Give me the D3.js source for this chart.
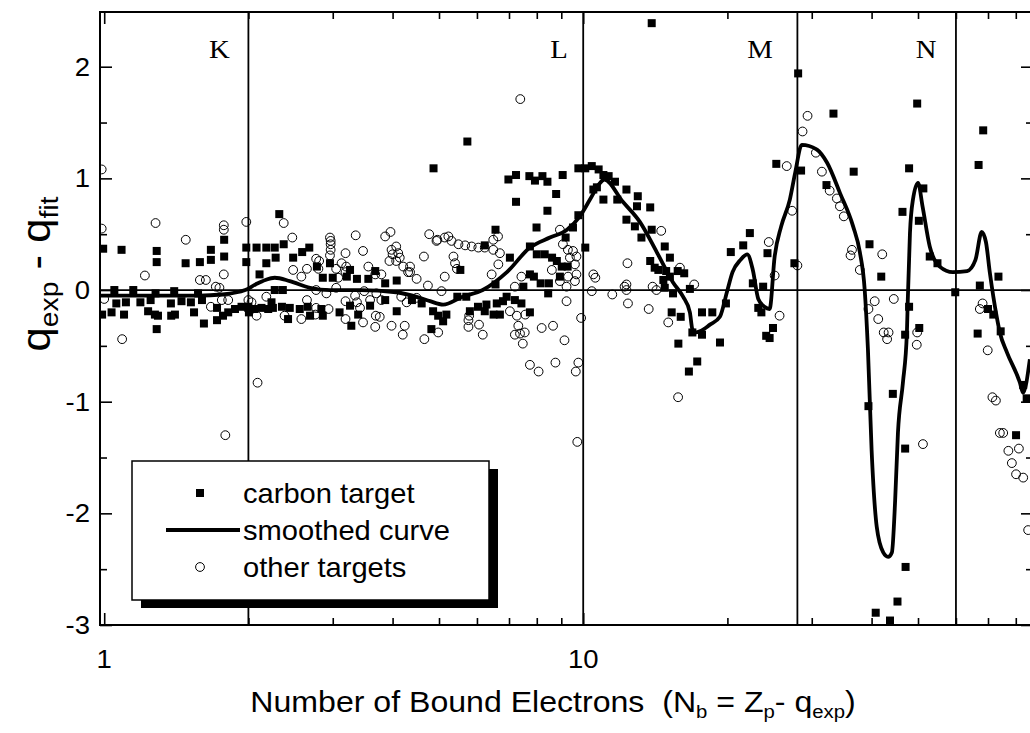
<!DOCTYPE html>
<html>
<head>
<meta charset="utf-8">
<script src="https://cdn.jsdelivr.net/npm/d3@7"></script>
<style>
body { margin: 0; background: #fff; }
text { font-family: Arial, "Liberation Sans", sans-serif; fill: #000; }
</style>
</head>
<body>
<div id="chart"></div>
<script>
// shell closures and their labels
const shellBounds = [2, 10, 28, 60];
const shellLabels = ['K', 'L', 'M', 'N'];
const shellLabelN = [1.74, 8.9, 23.4, 52];

const xMajorTicks = [1, 10];
const xMinorTicks = [2, 3, 4, 5, 6, 7, 8, 9, 20, 30, 40, 50, 60, 70, 80];
const yMajorTicks = [-3, -2, -1, 0, 1, 2];
const yMinorTicks = [-2.5, -1.5, -0.5, 0.5, 1.5];

const legendItems = ['carbon target', 'smoothed curve', 'other targets'];

// smoothed curve  [N_b, q_exp - q_fit]
const smoothCurve = [[0.98,-0.05],[1.25,-0.05],[1.58,-0.05],[1.76,-0.04],[1.97,0.0],[2.07,0.05],[2.17,0.09],[2.27,0.11],[2.44,0.08],[2.69,0.02],[2.96,0.0],[3.42,0.0],[4.07,-0.02],[4.56,-0.07],[4.79,-0.10],[5.1,-0.13],[5.6,-0.06],[6.17,0.0],[6.93,0.16],[7.74,0.38],[8.52,0.47],[9.25,0.54],[9.84,0.66],[10.33,0.81],[10.8,0.95],[11.07,0.99],[12.1,0.79],[13.13,0.61],[14.24,0.34],[15.39,0.07],[16.16,-0.06],[16.7,-0.2],[16.9,-0.35],[17.2,-0.38],[17.52,-0.37],[18.39,-0.31],[19.29,-0.24],[19.95,-0.02],[20.5,0.16],[21.3,0.27],[22.0,0.32],[22.6,0.18],[23.2,-0.08],[23.9,-0.15],[24.5,-0.17],[25.1,0.3],[25.9,0.57],[27.0,0.81],[27.7,1.05],[28.6,1.30],[30.7,1.26],[32.3,1.14],[34.35,0.87],[36.6,0.57],[37.8,0.34],[38.7,0.0],[39.3,-0.53],[40.0,-1.43],[41.0,-2.12],[42.3,-2.35],[43.3,-2.39],[44.1,-2.35],[44.8,-1.88],[45.4,-1.28],[46.5,-0.83],[47.4,-0.38],[47.6,-0.09],[48.1,0.51],[48.8,0.81],[50.0,0.96],[51.1,0.75],[52.9,0.39],[55.5,0.21],[59.1,0.16],[63.3,0.17],[65.9,0.27],[67.9,0.52],[69.3,0.43],[70.6,0.16],[73.0,-0.24],[74.1,-0.38],[76.7,-0.56],[81.6,-0.83],[82.8,-0.92],[85.6,-0.62]];

// carbon target  [N_b, q_exp - q_fit]
const carbonPoints = [[0.995,0.37],[1.087,0.36],[1.287,0.35],[1.287,0.25],[1.479,0.24],[1.584,0.25],[1.67,0.27],[1.67,0.36],[1.78,0.45],[1.78,0.30],[1.98,0.38],[1.98,0.25],[2.08,0.38],[2.18,0.38],[2.27,0.38],[2.18,0.24],[2.11,0.14],[2.37,0.41],[2.32,0.68],[2.28,0.29],[2.48,0.29],[2.59,0.34],[2.68,0.38],[2.78,0.21],[2.96,0.24],[2.86,0.11],[3.0,0.11],[3.21,0.12],
[1.05,0.0],[1.15,0.0],[1.28,-0.03],[1.40,-0.01],[1.57,-0.03],
[0.99,-0.22],[1.036,-0.2],[1.06,-0.12],[1.11,-0.11],[1.10,-0.22],[1.19,-0.11],[1.25,-0.09],[1.235,-0.19],[1.276,-0.22],[1.295,-0.23],[1.287,-0.35],[1.38,-0.23],[1.405,-0.22],[1.378,-0.12],[1.45,-0.1],[1.517,-0.11],[1.54,-0.2],[1.615,-0.3],[1.6,-0.09],[1.72,-0.16],[1.72,-0.27],[1.77,-0.23],[1.815,-0.2],[1.875,-0.17],[1.935,-0.15],[2.0,-0.15],[2.005,-0.2],[2.06,-0.17],[2.13,-0.16],[2.2,-0.17],[2.235,-0.11],
[3.26,0.18],[3.37,0.1],[3.56,0.1],[3.68,0.17],[3.86,0.06],[4.08,0.085],[2.27,0.0],[2.36,0.0],
[2.25,-0.16],[2.35,-0.15],[2.44,-0.16],[2.56,-0.17],[2.66,-0.15],[2.42,-0.26],[2.69,-0.23],[2.84,-0.17],[2.86,-0.23],[3.1,-0.2],[3.26,-0.14],[3.28,-0.32],[3.39,-0.22],[3.59,-0.14],[3.86,-0.09],[4.08,-0.19],[4.39,-0.09],[4.6,-0.12],[4.82,-0.35],[4.86,-0.19],[4.98,-0.23],[5.1,-0.28],[5.18,-0.22],
[4.87,1.09],[5.73,1.33],[13.9,2.39],[6.98,0.99],[7.24,1.03],[7.72,1.02],[7.93,0.98],[8.22,1.02],[8.42,0.97],[9.06,1.03],[9.77,1.09],[10.1,1.09],[10.42,1.11],[10.77,1.08],[7.24,0.79],[8.78,0.86],[8.42,0.71],[7.99,0.56],[6.56,0.54],[6.23,0.4],[7.74,0.39],[9.19,0.47],[9.52,0.56],[9.77,0.67],[10.1,0.38],[7.03,0.29],[8.0,0.32],[8.31,0.32],[8.61,0.29],[8.81,0.26],[9.02,0.21],[9.28,0.21],[7.74,0.14],[7.89,0.12],[8.15,0.06],[8.48,0.06],[8.94,0.12],[8.45,-0.03],[7.5,0.03],[6.56,0.05],[6.92,-0.06],[5.54,0.18],[5.46,-0.06],[5.7,-0.06],[6.28,-0.13],[6.6,-0.12],[6.8,-0.1],[7.2,-0.09],[7.43,-0.12],[7.74,-0.2],[5.8,-0.19],[6.23,-0.19],[6.5,-0.22],[6.7,-0.22],[6.03,-0.15],
[10.68,0.92],[11.02,1.03],[11.3,1.02],[11.65,0.97],[12.31,0.9],[13.0,0.84],[13.8,0.74],[11.02,0.81],[11.78,0.81],[12.31,0.63],[12.82,0.57],[13.23,0.47],[13.9,0.54],[14.8,0.39],[15.17,0.29],[13.8,0.26],[14.35,0.18],[14.7,0.09],[15.4,-0.03],[15.3,-0.2],[10.5,0.9],[12.95,0.75],[14.1,0.2],[14.9,0.17],[15.75,0.17],[16.25,0.15],[15.17,0.12],[14.8,0.02],[16.7,0.01],[15.98,-0.24],[15.8,-0.48],[17.3,-0.64],[16.62,-0.73],[16.9,-0.38],[17.7,-0.4],[17.7,-0.2],[18.6,-0.2],[19.3,-0.47],[19.86,-0.12],[20.33,0.34],[21.58,0.4],[22.28,0.51],[22.6,0.06],[23.75,0.03],[23.2,-0.16],[23.55,-0.2],[24.25,0.33],[24.9,-0.34],[24.1,-0.41],[24.5,-0.43],[25.3,1.13],[28.5,1.07],[27.6,0.24],[28.1,1.94],[33.3,1.58],[32.2,0.94],[36.7,1.06],[39.6,0.41],[41.9,0.12],[49.8,1.67],[47.9,1.09],[46.4,0.7],[50.2,0.62],[51.3,0.91],[52.9,0.3],[54.9,0.24],[59.8,-0.02],[68.4,1.43],[66.9,1.12],[67.3,0.04],[73.6,0.12],[70.0,-0.17],[71.8,-0.22],[74.4,-0.37],[66.6,-0.39],[47.9,-0.15],[47.0,-0.4],[50.3,-0.34],[39.4,-1.04],[44.3,-0.93],[47.0,-1.42],[47.1,-2.48],[45.3,-2.79],[40.8,-2.89],[43.7,-2.96],[80.1,-1.3],[82.9,-0.85],[84.3,-0.97]];

// other targets  [N_b, q_exp - q_fit]
const otherPoints = [[0.988,1.08],[0.988,0.55],[1.28,0.6],[1.48,0.45],[1.777,0.58],[1.777,0.54],[1.98,0.61],[2.37,0.6],[2.47,0.47],[1.216,0.13],[1.584,0.09],[1.63,0.09],[1.71,0.03],[1.777,0.14],[1.74,0.02],[2.96,0.47],[2.97,0.41],[2.97,0.36],[2.96,0.31],[2.97,0.44],[2.77,0.28],[2.8,0.19],[2.65,0.19],[2.48,0.18],[2.58,0.12],[3.05,0.19],[3.2,0.21],[1.09,-0.44],[2.09,-0.83],[1.79,-1.3],[2.18,-0.06],[1.67,-0.15],[1.76,-0.09],[1.815,-0.09],[2.03,-0.11],[2.08,-0.23],[1.0,-0.08],[2.0,-0.17],[2.0,-0.09],
[3.35,0.49],[3.86,0.48],[3.96,0.52],[4.07,0.39],[4.11,0.33],[4.0,0.32],[3.94,0.26],[4.07,0.26],[3.19,0.33],[3.47,0.35],[2.81,0.26],[3.13,0.24],[3.19,0.16],[3.08,0.11],[3.56,0.21],[3.68,0.14],[3.79,0.14],[4.21,0.21],[4.31,0.16],[4.49,0.1],[4.65,0.3],[4.77,0.5],[4.94,0.44],[5.14,0.12],[2.77,0.0],[2.91,-0.03],[3.05,0.02],[3.34,-0.05],[3.49,-0.01],[3.7,-0.03],[3.79,-0.09],[4.17,-0.06],[4.28,-0.11],[4.49,-0.07],[5.06,-0.01],[2.38,-0.23],[2.58,-0.26],[2.76,-0.22],[2.94,-0.17],[3.19,-0.26],[3.47,-0.29],[3.69,-0.23],[3.98,-0.32],[4.2,-0.4],[4.66,-0.44],[4.24,-0.32],[3.42,-0.16],[3.59,-0.09],[3.37,-0.11],[3.19,-0.1],[2.77,-0.16],[2.65,-0.09],
[7.39,1.71],[4.96,0.45],[5.14,0.47],[5.31,0.44],[5.49,0.41],[5.67,0.4],[5.85,0.39],[6.04,0.38],[6.23,0.38],[6.49,0.45],[6.64,0.48],[6.49,0.36],[6.7,0.33],[5.23,0.48],[3.98,0.36],[4.14,0.29],[4.35,0.21],[4.35,0.16],[5.36,0.3],[5.4,0.24],[5.45,0.19],[4.74,0.04],[6.44,0.14],[6.65,0.23],[7.2,0.03],[7.43,0.12],[8.94,0.54],[9.07,0.41],[9.29,0.36],[9.52,0.35],[9.68,0.3],[9.38,0.29],[9.61,0.23],[9.68,0.14],[9.61,0.08],[9.23,0.03],[8.94,0.08],[8.6,0.18],[9.3,0.12],[10.5,0.14],[10.6,0.11],[10.42,-0.01],[11.5,-0.04],[12.31,0.05],[12.31,0.0],[12.37,0.24],[12.4,-0.12],[13.7,-0.17],[14.55,0.53],[13.96,0.03],[9.23,-0.1],[9.9,-0.25],[7.03,-0.19],[7.27,-0.23],[7.57,-0.22],[5.78,-0.23],[3.68,-0.33],[3.76,-0.24],[4.98,-0.38],[5.76,-0.27],[5.76,-0.33],[6.06,-0.31],[6.17,-0.4],[7.2,-0.4],[7.32,-0.32],[7.38,-0.39],[7.55,-0.38],[7.48,-0.48],[8.19,-0.34],[8.65,-0.32],[9.14,-0.45],[7.74,-0.67],[8.07,-0.73],[8.75,-0.65],[9.65,-0.73],[9.77,-0.65],[9.72,-1.36],
[15.05,-0.29],[15.78,-0.96],[26.6,1.11],[15.92,0.2],[12.2,0.03],[14.22,0.0],[17.05,0.05],[24.4,0.43],[25.1,0.13],[25.7,-0.23],[28.0,0.22],[27.3,0.71],[29.4,1.56],[28.7,1.42],[30.6,1.23],[31.5,1.06],[32.7,0.89],[33.85,0.82],[34.35,0.75],[35.0,0.66],[36.4,0.36],[36.15,0.31],[37.8,0.18],[42.1,0.32],[44.5,-0.08],[40.6,-0.1],[39.4,-0.17],[41.3,-0.26],[42.4,-0.38],[43.4,-0.38],[43.1,-0.44],[49.8,-0.38],[49.7,-0.49],[51.2,-1.38],[68.2,-0.12],[67.3,-0.17],[69.9,-0.54],[71.5,-0.96],[72.7,-0.99],[74.1,-1.28],[75.3,-1.28],[77.2,-1.44],[81.2,-1.42],[78.5,-1.55],[80.1,-1.65],[82.9,-1.68],[84.9,-2.15]];

const W = 1030, H = 733;
const box = {left: 100, right: 1033, top: 12, bottom: 625};

const svg = d3.select('#chart').append('svg').attr('width', W).attr('height', H);

const x = d3.scaleLog().domain([0.98, 86.9]).range([box.left, box.right]);
const y = d3.scaleLinear().domain([-3, 2.49]).range([box.bottom, box.top]);

svg.append('defs').append('clipPath').attr('id', 'clip')
.append('rect').attr('x', box.left).attr('y', box.top)
.attr('width', box.right - box.left).attr('height', box.bottom - box.top);

// stretched text helper: the original lettering is a bit wider than plain Arial
function stretched(g, px, py, str, size, sx, anchor, rot) {
return g.append('text')
.attr('transform', `translate(${px},${py})` + (rot ? ` rotate(${rot})` : '') + ` scale(${sx},1)`)
.attr('text-anchor', anchor || 'start')
.style('font-size', size + 'px')
.text(str);
}

// axes (ticks inward on all sides)
function addAxis(axis, ty, tx, values, size) {
const g = svg.append('g').attr('transform', `translate(${tx},${ty})`)
.call(axis.tickValues(values).tickSize(-size).tickSizeOuter(0).tickFormat(''));
g.select('.domain').remove();
g.selectAll('.tick line').attr('stroke', '#000').attr('stroke-width', 1.6);
g.selectAll('.tick text').remove();
return g;
}
addAxis(d3.axisBottom(x), box.bottom, 0, xMajorTicks, 12);
addAxis(d3.axisBottom(x), box.bottom, 0, xMinorTicks, 7);
addAxis(d3.axisTop(x), box.top, 0, xMajorTicks, 12);
addAxis(d3.axisTop(x), box.top, 0, xMinorTicks, 7);
addAxis(d3.axisLeft(y), 0, box.left, yMajorTicks, 12);
addAxis(d3.axisLeft(y), 0, box.left, yMinorTicks, 7);
addAxis(d3.axisRight(y), 0, box.right, yMajorTicks, 12);
addAxis(d3.axisRight(y), 0, box.right, yMinorTicks, 7);

// tick labels
yMajorTicks.forEach(v => stretched(svg, 90, y(v) + 9, String(v), 25, 1.1, 'end'));
xMajorTicks.forEach(v => stretched(svg, x(v), 668, String(v), 25, 1.1, 'middle'));

// zero line and shell boundaries
svg.append('line').attr('x1', box.left).attr('x2', box.right)
.attr('y1', y(0)).attr('y2', y(0)).attr('stroke', '#000').attr('stroke-width', 1.8);
svg.selectAll('.shell').data(shellBounds).enter().append('line')
.attr('x1', d => x(d)).attr('x2', d => x(d))
.attr('y1', box.top).attr('y2', box.bottom)
.attr('stroke', '#000').attr('stroke-width', 1.8);

const shellG = svg.append('g');
shellLabels.forEach((s, i) => {
stretched(shellG, x(shellLabelN[i]), 58, s, 25, 1.15, 'middle')
.style('font-family', '"Liberation Serif", "Times New Roman", serif');
});

// data
const plot = svg.append('g').attr('clip-path', 'url(#clip)');
plot.selectAll('.other').data(otherPoints).enter().append('circle')
.attr('cx', d => x(d[0])).attr('cy', d => y(d[1])).attr('r', 4.4)
.attr('fill', 'none').attr('stroke', '#000').attr('stroke-width', 1);
plot.selectAll('.carbon').data(carbonPoints).enter().append('rect')
.attr('x', d => x(d[0]) - 4).attr('y', d => y(d[1]) - 4)
.attr('width', 8).attr('height', 8).attr('fill', '#000');
const line = d3.line().x(d => x(d[0])).y(d => y(d[1])).curve(d3.curveMonotoneX);
plot.append('path').datum(smoothCurve).attr('d', line)
.attr('fill', 'none').attr('stroke', '#000').attr('stroke-width', 3.8).attr('stroke-linejoin', 'round');

// frame
svg.append('rect').attr('x', box.left).attr('y', box.top)
.attr('width', box.right - box.left).attr('height', box.bottom - box.top)
.attr('fill', 'none').attr('stroke', '#000').attr('stroke-width', 2);

// legend
const lg = svg.append('g');
lg.append('rect').attr('x', 141).attr('y', 469).attr('width', 357).attr('height', 139).attr('fill', '#000');
lg.append('rect').attr('x', 132).attr('y', 461).attr('width', 357).attr('height', 139)
.attr('fill', '#fff').attr('stroke', '#000').attr('stroke-width', 1.5);
const rowY = [493, 530, 567];
lg.append('rect').attr('x', 196).attr('y', rowY[0] - 4).attr('width', 8).attr('height', 8).attr('fill', '#000');
lg.append('line').attr('x1', 166).attr('x2', 240).attr('y1', rowY[1]).attr('y2', rowY[1])
.attr('stroke', '#000').attr('stroke-width', 3.8);
lg.append('circle').attr('cx', 200).attr('cy', rowY[2]).attr('r', 4.4)
.attr('fill', 'none').attr('stroke', '#000').attr('stroke-width', 1);
legendItems.forEach((t, i) => stretched(lg, 243, rowY[i] + 10, t, 28, 1.04, 'start'));

// y axis title
const yt = svg.append('text')
.attr('transform', 'translate(50,274) rotate(-90) scale(1.09,1)')
.attr('text-anchor', 'middle');
yt.append('tspan').style('font-size', '40px').text('q');
yt.append('tspan').style('font-size', '26px').attr('dy', 8).text('exp');
yt.append('tspan').style('font-size', '40px').attr('dy', -8).text('\u00a0-\u00a0q');
yt.append('tspan').style('font-size', '26px').attr('dy', 8).text('fit');

// x axis title
const xt = svg.append('text')
.attr('transform', 'translate(553,712) scale(1.07,1)')
.attr('text-anchor', 'middle').style('font-size', '30px');
xt.append('tspan').text('Number of Bound Electrons\u00a0\u00a0(N');
xt.append('tspan').style('font-size', '19px').attr('dy', 6).text('b');
xt.append('tspan').attr('dy', -6).text(' = Z');
xt.append('tspan').style('font-size', '19px').attr('dy', 6).text('p');
xt.append('tspan').attr('dy', -6).text('- q');
xt.append('tspan').style('font-size', '19px').attr('dy', 6).text('exp');
xt.append('tspan').attr('dy', -6).text(')');
</script>
</body>
</html>
